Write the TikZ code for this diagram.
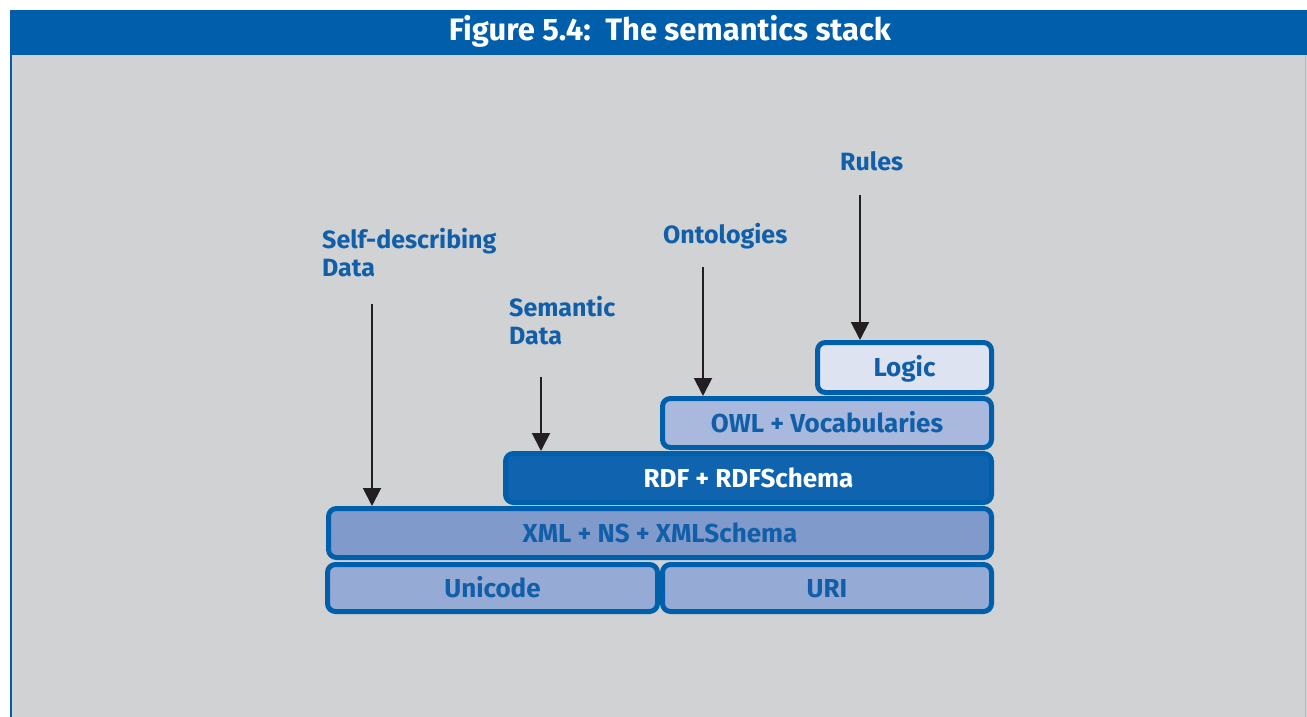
\documentclass[tikz,border=0pt]{standalone}
\usepackage{fontspec}
\setmainfont{Fira Sans}
\usetikzlibrary{arrows.meta}
\definecolor{hdrblue}{HTML}{005EAA}
\definecolor{panelgray}{HTML}{D1D2D4}
\definecolor{edgeblue}{HTML}{005FAB}
\definecolor{txtblue}{HTML}{105FA8}
\definecolor{fillbase}{HTML}{96AAD6}
\definecolor{fillxml}{HTML}{7F9ACB}
\definecolor{fillrdf}{HTML}{1063AE}
\definecolor{fillowl}{HTML}{A9B9DE}
\definecolor{filllogic}{HTML}{DEE3F2}
\definecolor{arrowink}{HTML}{231F20}
\tikzset{
  layer/.style={draw=edgeblue, line width=5pt, rounded corners=8pt,
    inner sep=0pt, text=txtblue, text height=18pt, text depth=0pt,
    font=\fontsize{26}{30}\selectfont\bfseries},
  caption/.style={text=txtblue, align=left, anchor=base west, inner sep=0pt,
    font=\fontsize{25}{27.5}\selectfont\bfseries},
  feed/.style={draw=arrowink, line width=2pt,
    -{Triangle[width=18pt,length=18pt]}},
}
\begin{document}
\begin{tikzpicture}[x=1pt, y=-1pt]
  % page frame
  \useasboundingbox (0,0) rectangle (1307,717);
  \fill[white] (0,0) rectangle (1307,717);
  \fill[panelgray] (10,55) rectangle (1307,717);
  \draw[edgeblue, line width=1.5pt] (11,55) -- (11,717);
  \draw[edgeblue!40, line width=1pt] (1305,55) -- (1305,717);
  \fill[hdrblue] (10,10) rectangle (1307,55);
  \node[text=white, font=\fontsize{31}{34}\selectfont\bfseries] (title) at (670,31)
    {Figure 5.4:\ \ The semantics stack};

  % the layered stack
  \node[layer, fill=fillbase, minimum width=330pt, minimum height=47pt] (unicode) at (492.5,588) {Unicode};
  \node[layer, fill=fillbase, minimum width=329pt, minimum height=47pt] (uri) at (827,588) {URI};
  \node[layer, fill=fillxml, minimum width=663pt, minimum height=49pt] (xml) at (660,533) {XML + NS + XMLSchema};
  \node[layer, fill=fillrdf, text=white, minimum width=486pt, minimum height=49pt] (rdf) at (748.5,478) {RDF + RDFSchema};
  \node[layer, fill=fillowl, minimum width=329pt, minimum height=49pt] (owl) at (827,423) {OWL + Vocabularies};
  \node[layer, fill=filllogic, minimum width=174pt, minimum height=50pt] (logic) at (904.5,367.5) {Logic};

  % captions above the stack (anchored at the baseline of their last line)
  \node[caption] (selfdesc) at (322,276) {Self-describing\\Data};
  \node[caption] (semdata) at (509,344) {Semantic\\Data};
  \node[caption] (onto) at (663,243) {Ontologies};
  \node[caption] (rules) at (840,170) {Rules};

  % arrows into the layers
  \coordinate (sdtop) at (372,304);
  \coordinate (smtop) at (541,377);
  \coordinate (ontop) at (703,267);
  \coordinate (rutop) at (860,195);
  \draw[feed] (sdtop) -- (sdtop |- xml.north);
  \draw[feed] (smtop) -- (smtop |- rdf.north);
  \draw[feed] (ontop) -- (ontop |- owl.north);
  \draw[feed] (rutop) -- (rutop |- logic.north);
\end{tikzpicture}
\end{document}
